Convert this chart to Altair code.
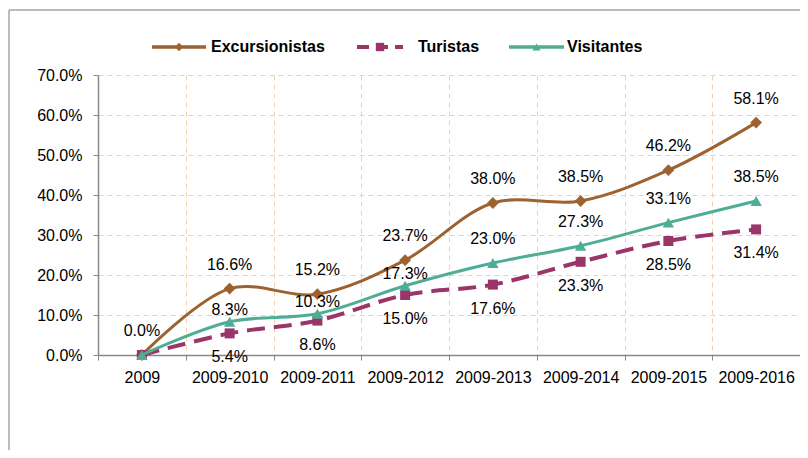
import altair as alt
import pandas as pd

categories = ["2009", "2009-2010", "2009-2011", "2009-2012", "2009-2013",
              "2009-2014", "2009-2015", "2009-2016"]
excursionistas = [0.0, 16.6, 15.2, 23.7, 38.0, 38.5, 46.2, 58.1]
turistas = [0.0, 5.4, 8.6, 15.0, 17.6, 23.3, 28.5, 31.4]
visitantes = [0.0, 8.3, 10.3, 17.3, 23.0, 27.3, 33.1, 38.5]
y_ticks = [0, 10, 20, 30, 40, 50, 60, 70]

series_names = ["Excursionistas", "Turistas", "Visitantes"]
series_values = [excursionistas, turistas, visitantes]
colors = ["#9C6230", "#9B3468", "#4FAD96"]
shapes = ["diamond", "square", "triangle-up"]

rows = []
for name, vals in zip(series_names, series_values):
    for i, (c, v) in enumerate(zip(categories, vals)):
        rows.append({"serie": name, "idx": i, "cat": c, "v": v})
df = pd.DataFrame(rows)

W, H = 702, 280
FONT = "Liberation Sans"
FS = 16
n = len(categories)
bounds = [i - 0.5 for i in range(n + 1)]
centers = list(range(n))
cat_js = "[" + ",".join("'" + c + "'" for c in categories) + "]"

x_enc = alt.X(
    "idx:Q",
    scale=alt.Scale(domain=[-0.5, n - 0.5], nice=False, zero=False),
    axis=alt.Axis(
        values=bounds + centers,
        labelExpr="datum.value % 1 == 0 ? " + cat_js + "[datum.value] : ''",
        labelOverlap=False,
        title=None,
        grid=True,
        gridDash=[5, 4],
        gridColor="#F3CFAF",
        gridWidth=1,
        gridOpacity={"condition": {"test": "datum.value % 1 != 0 && datum.value > 0", "value": 1}, "value": 0},
        tickOpacity={"condition": {"test": "datum.value % 1 != 0", "value": 1}, "value": 0},
        tickColor="#888888",
        tickSize=5,
        domainColor="#888888",
        domainWidth=1.5,
        labelFont=FONT,
        labelFontSize=FS,
        labelColor="#000000",
        labelPadding=9,
        labelAngle=0,
    ),
)
y_enc = alt.Y(
    "v:Q",
    scale=alt.Scale(domain=[0, 70], nice=False),
    axis=alt.Axis(
        values=y_ticks,
        labelExpr="format(datum.value, '.1f') + '%'",
        labelOverlap=False,
        title=None,
        grid=True,
        gridDash=[5, 4],
        gridColor="#F3CFAF",
        gridOpacity={"condition": {"test": "datum.value > 0", "value": 1}, "value": 0},
        tickColor="#888888",
        tickSize=5,
        domainColor="#888888",
        domainWidth=1.5,
        labelFont=FONT,
        labelFontSize=FS,
        labelColor="#000000",
        labelPadding=11,
    ),
)

layers = []
marker_sizes = [140, 100, 130]
for k, (name, col, shp) in enumerate(zip(series_names, colors, shapes)):
    sub = alt.Chart(df).transform_filter(alt.datum.serie == name)
    line_kw = dict(color=col, strokeWidth=3, interpolate="catmull-rom")
    if k == 1:
        line_kw["strokeDash"] = [18, 9]
        line_kw["strokeWidth"] = 4
    layers.append(sub.mark_line(**line_kw).encode(x=x_enc, y=y_enc))
    layers.append(sub.mark_point(shape=shp, filled=True, color=col, size=marker_sizes[k], opacity=1)
                  .encode(x=x_enc, y=y_enc))

# Data labels
txt_kw = dict(font=FONT, fontSize=FS, color="#000000", baseline="middle", align="center")
lab_expr = "format(datum.v, '.1f') + '%'"
label_specs = [
    ((alt.datum.serie == "Excursionistas"), -24),
    ((alt.datum.serie == "Turistas") & (alt.datum.idx > 0), 24),
    ((alt.datum.serie == "Visitantes") & (alt.datum.idx > 0) & (alt.datum.idx <= 3), -12),
    ((alt.datum.serie == "Visitantes") & (alt.datum.idx > 3), -24),
]
for flt, dy in label_specs:
    layers.append(alt.Chart(df).transform_filter(flt).transform_calculate(lab=lab_expr)
                  .mark_text(dy=dy, **txt_kw).encode(x=x_enc, y=y_enc, text="lab:N"))

# Custom legend (pixel positions relative to plot origin)
leg_y = -28
leg_items = [(54, 108, 113), (259, 305, 320), (411, 466, 469)]
for k, ((x0, x1, xt), name, col, shp) in enumerate(zip(leg_items, series_names, colors, shapes)):
    base = alt.Chart(pd.DataFrame({"name": [name]}))
    rule_kw = dict(color=col, strokeWidth=4 if k == 1 else 3.5)
    if k == 1:
        rule_kw["strokeDash"] = [12, 7]
    layers.append(base.mark_rule(**rule_kw).encode(
        x=alt.value(x0), x2=alt.value(x1), y=alt.value(leg_y)))
    layers.append(base.mark_point(shape=shp, filled=True, color=col, size=70, opacity=1).encode(
        x=alt.value((x0 + x1) / 2), y=alt.value(leg_y)))
    layers.append(base.mark_text(font=FONT, fontSize=FS, fontWeight="bold", color="#000000",
                                 align="left", baseline="middle").encode(
        x=alt.value(xt), y=alt.value(leg_y), text="name:N"))

# Outer frame (left and top edges of the chart border)
frame = alt.Chart(pd.DataFrame({"a": [0]}))
layers.append(frame.mark_rule(color="#A6A6A6", strokeWidth=1.5).encode(
    x=alt.value(-89), y=alt.value(-65), y2=alt.value(H + 100)))
layers.append(frame.mark_rule(color="#A6A6A6", strokeWidth=1.5).encode(
    x=alt.value(-89), x2=alt.value(W + 5), y=alt.value(-65)))

chart = alt.layer(*layers).properties(
    width=W, height=H,
    background="#FFFFFF",
    autosize=alt.AutoSizeParams(type="none"),
    padding={"left": 90, "top": 67, "right": 0, "bottom": 95},
).configure_view(stroke=None)

chart.save("out.html", embed_options={"renderer": "svg", "actions": False})
